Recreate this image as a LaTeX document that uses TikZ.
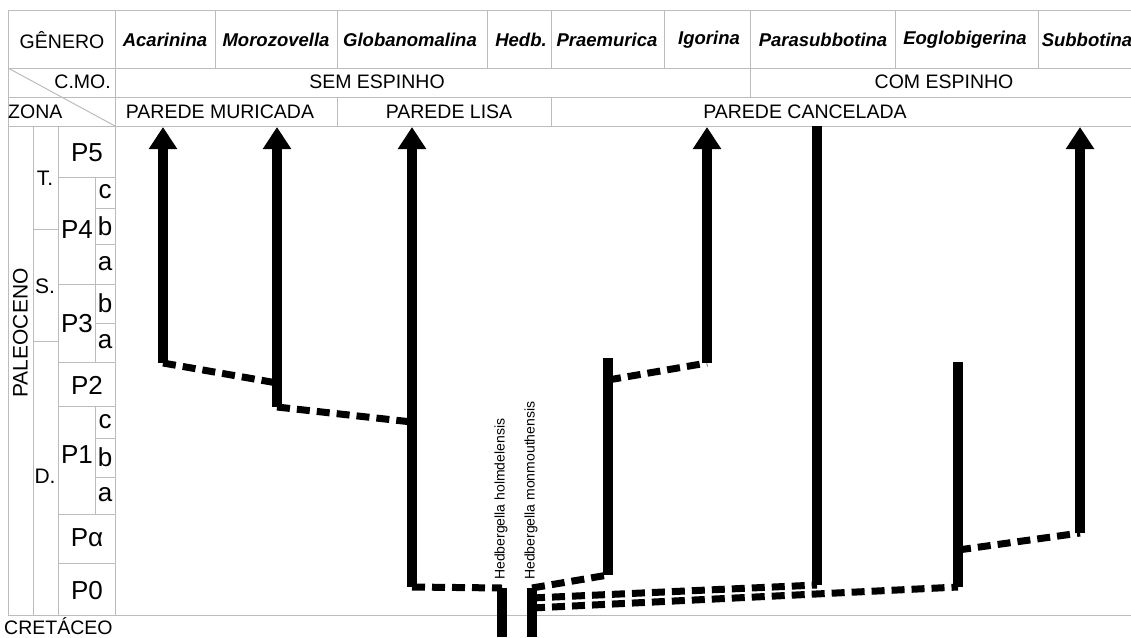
\documentclass[tikz,border=0pt]{standalone}
\usepackage{fontspec}
\setmainfont{Liberation Sans}
\usepackage{xcolor}
\usepackage{tikz}
\usetikzlibrary{arrows.meta}

\definecolor{gridgray}{RGB}{188,188,188}

\tikzset{
  gridline/.style={draw=gridgray,line width=1pt},
  lineage/.style={line width=10pt},
  evolve/.style={lineage,-{Triangle[length=22pt,width=27pt]}},
  ghost/.style={line width=7pt,dash pattern=on 13pt off 7pt},
  genus/.style={font=\fontsize{18.5}{20}\selectfont\bfseries\itshape,inner sep=0pt},
  head/.style={font=\fontsize{19.5}{21}\selectfont,inner sep=0pt},
  zone/.style={font=\fontsize{26}{28}\selectfont,inner sep=0pt},
  epoch/.style={font=\fontsize{21}{23}\selectfont,inner sep=0pt},
  species/.style={font=\fontsize{14}{15}\selectfont,inner sep=0pt,rotate=90,anchor=west}
}

\begin{document}
\begin{tikzpicture}[x=1pt,y=-1pt]
  \useasboundingbox (0,0) rectangle (1131,637);
  % table frame
  \foreach \y in {10,68,97,126,615}
    \draw[gridline] (8,\y) -- (1131,\y);
  \draw[gridline] (8,10) -- (8,615);
  \draw[gridline] (115,10) -- (115,615);
  \draw[gridline] (8,68) -- (115,126);
  \foreach \x in {215,337,487,551,664,895,1038}
    \draw[gridline] (\x,10) -- (\x,68);
  \draw[gridline] (750,10) -- (750,97);
  \foreach \x in {337,551}
    \draw[gridline] (\x,97) -- (\x,126);
  % time scale
  \foreach \x in {33,58}
    \draw[gridline] (\x,126) -- (\x,615);
  \foreach \y in {229,341}
    \draw[gridline] (33,\y) -- (58,\y);
  \foreach \y in {177,284,362,406,514,563}
    \draw[gridline] (58,\y) -- (115,\y);
  \draw[gridline] (95,177) -- (95,362) (95,406) -- (95,514);
  \foreach \y in {208,244,323,438,477}
    \draw[gridline] (95,\y) -- (115,\y);

  % header
  \node[head] (genero) at (62,40) {GÊNERO};
  \node[head,anchor=east] (cmo) at (111,82) {C.MO.};
  \node[head,anchor=west] (zona) at (8,112) {ZONA};
  \foreach \x/\id/\name in {165/aca/Acarinina,276/moro/Morozovella,
      410/glob/Globanomalina,521/hedb/Hedb.,607/prae/Praemurica,
      709/igo/Igorina,823/para/Parasubbotina,965/eo/Eoglobigerina,
      1087/sub/Subbotina}
    \node[genus] (g\id) at (\x,40) {\name};
  \node[head] (sem) at (377,82) {SEM ESPINHO};
  \node[head] (com) at (944,82) {COM ESPINHO};
  \node[head] (muric) at (220,112) {PAREDE MURICADA};
  \node[head] (lisa) at (449,112) {PAREDE LISA};
  \node[head] (cancel) at (805,112) {PAREDE CANCELADA};

  % zones
  \node[epoch,rotate=90] (paleo) at (20.5,333) {PALEOCENO};
  \node[epoch] (tard) at (45,178) {T.};
  \node[epoch] (sel) at (45,286) {S.};
  \node[epoch] (dan) at (45,476) {D.};
  \node[zone] (p5) at (87,153) {P5};
  \node[zone] (p4) at (77,230) {P4};
  \node[zone] (p3) at (77,324) {P3};
  \node[zone] (p2) at (87,385) {P2};
  \node[zone] (p1) at (77,455) {P1};
  \node[zone] (palpha) at (87,538) {Pα};
  \node[zone] (p0) at (87,591) {P0};
  \foreach \y/\id/\sub in {192/p4c/c,226/p4b/b,264/p4a/a,303/p3b/b,342/p3a/a,
      422/p1c/c,457/p1b/b,495/p1a/a}
    \node[zone] (\id) at (105,\y) {\sub};
  \node[head,anchor=base west] (cret) at (4,634) {CRETÁCEO};

  % lineages
  \coordinate (acaTip) at (163,127);
  \coordinate (acaBase) at (163,363);
  \coordinate (moroTip) at (277,127);
  \coordinate (moroJoin) at (277,383);
  \coordinate (moroBase) at (277,407);
  \coordinate (globTip) at (412,127);
  \coordinate (globJoin) at (412,422);
  \coordinate (globBase) at (412,587);
  \coordinate (holmTop) at (502,588);
  \coordinate (holmEnd) at (502,637);
  \coordinate (monTop) at (532,588);
  \coordinate (monA) at (532,598);
  \coordinate (monB) at (532,608);
  \coordinate (monEnd) at (532,637);
  \coordinate (praeTop) at (608,358);
  \coordinate (praeJoin) at (608,380);
  \coordinate (praeBase) at (608,575);
  \coordinate (igoTip) at (707,127);
  \coordinate (igoBase) at (707,363);
  \coordinate (paraTop) at (817,126);
  \coordinate (paraBase) at (817,585);
  \coordinate (eoTop) at (958,362);
  \coordinate (eoJoin) at (958,550);
  \coordinate (eoBase) at (958,587);
  \coordinate (subTip) at (1080,127);
  \coordinate (subBase) at (1080,533);

  \draw[evolve] (acaBase) -- (acaTip);
  \draw[evolve] (moroBase) -- (moroTip);
  \draw[evolve] (globBase) -- (globTip);
  \draw[evolve] (igoBase) -- (igoTip);
  \draw[evolve] (subBase) -- (subTip);
  \draw[lineage] (paraBase) -- (paraTop);
  \draw[lineage] (praeBase) -- (praeTop);
  \draw[lineage] (eoBase) -- (eoTop);
  \draw[lineage] (holmTop) -- (holmEnd);
  \draw[lineage] (monTop) -- (monEnd);

  \draw[ghost] (acaBase) -- (moroJoin);
  \draw[ghost] (moroBase) -- (globJoin);
  \draw[ghost] (globBase) -- (holmTop);
  \draw[ghost] (monTop) -- (praeBase);
  \draw[ghost] (praeJoin) -- (igoBase);
  \draw[ghost] (monA) -- (paraBase);
  \draw[ghost] (monB) -- (eoBase);
  \draw[ghost] (eoJoin) -- (subBase);

  \node[species] (holm) at (501,580) {Hedbergella holmdelensis};
  \node[species] (monm) at (531,580) {Hedbergella monmouthensis};
\end{tikzpicture}
\end{document}
